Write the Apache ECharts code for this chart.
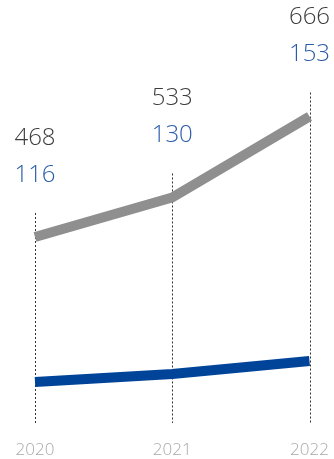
<!DOCTYPE html>
<html>
<head>
<meta charset="utf-8">
<style>
  html, body { margin: 0; padding: 0; background: #ffffff; }
  #chart { width: 334px; height: 459px; }
</style>
<script src="https://cdn.jsdelivr.net/npm/echarts@6/dist/echarts.min.js"></script>
</head>
<body>
<div id="chart"></div>
<script>
// Years on the x axis
const years = ['2020', '2021', '2022'];
// Upper (grey) series
const greyValues = [468, 533, 666];
// Lower (blue) series
const blueValues = [116, 130, 153];

const FONT = '"Open Sans", Lato, sans-serif';
const GREY = '#8f8f8f';
const BLUE = '#00449a';

const chart = echarts.init(document.getElementById('chart'), null, { renderer: 'canvas' });

// Rows for the annotation layer: [category index, grey value, blue value]
const annotations = years.map((y, i) => [i, greyValues[i], blueValues[i]]);

chart.setOption({
  animation: false,
  grid: { left: 35, right: 24.5, top: 20, bottom: 36 },
  xAxis: {
    type: 'category',
    data: years,
    boundaryGap: false,
    axisLine: { show: false },
    axisTick: { show: false },
    splitLine: { show: false },
    axisLabel: {
      color: '#a8a8a8',
      fontFamily: FONT,
      fontWeight: 300,
      fontSize: 17,
      margin: 19,
      showMinLabel: true,
      showMaxLabel: true
    }
  },
  yAxis: [
    { type: 'value', min: 162.4, max: 824.6, show: false },
    { type: 'value', min: 43.8, max: 753.8, show: false }
  ],
  series: [
    {
      // dotted drop lines and the two value labels above each year
      type: 'custom',
      yAxisIndex: 0,
      z: 1,
      data: annotations,
      renderItem: function (params, api) {
        const p = api.coord([api.value(0), api.value(1)]);
        const bottom = params.coordSys.y + params.coordSys.height;
        return {
          type: 'group',
          children: [
            {
              type: 'line',
              shape: { x1: Math.round(p[0]) + 0.5, y1: p[1] - 24, x2: Math.round(p[0]) + 0.5, y2: bottom },
              style: { stroke: '#333333', lineWidth: 1, lineDash: [2, 2] }
            },
            {
              type: 'text',
              x: p[0], y: p[1] - 99,
              style: {
                text: String(api.value(1)),
                fill: '#3d3d3d',
                font: '300 24px ' + FONT,
                align: 'center',
                verticalAlign: 'middle'
              }
            },
            {
              type: 'text',
              x: p[0], y: p[1] - 62,
              style: {
                text: String(api.value(2)),
                fill: '#2a5caa',
                font: '300 24px ' + FONT,
                align: 'center',
                verticalAlign: 'middle'
              }
            }
          ]
        };
      }
    },
    {
      type: 'line',
      yAxisIndex: 0,
      z: 3,
      data: greyValues,
      symbol: 'none',
      lineStyle: { color: GREY, width: 10, cap: 'butt', join: 'miter' }
    },
    {
      type: 'line',
      yAxisIndex: 1,
      z: 3,
      data: blueValues,
      symbol: 'none',
      lineStyle: { color: BLUE, width: 10, cap: 'butt', join: 'miter' }
    }
  ]
});
</script>
</body>
</html>
